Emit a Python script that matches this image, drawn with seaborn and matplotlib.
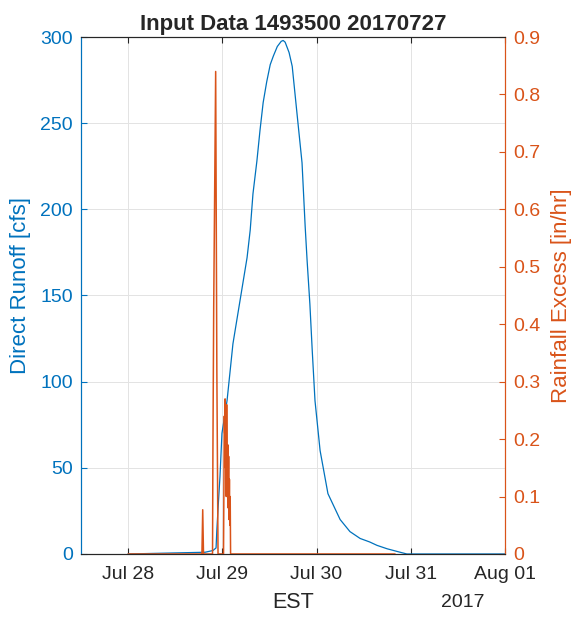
import pandas as pd
import matplotlib
matplotlib.use("Agg")
import matplotlib.pyplot as plt
import matplotlib.dates as mdates
import seaborn as sns

# Plot configuration
sns.set_style("white")
plt.rcParams['font.family'] = ['Liberation Sans', 'DejaVu Sans']
blue = "#0072BD"
orange = "#D95319"
dark = "#262626"

# Data (hours after 2017-07-27 00:00 EST)
runoff_hours = [24, 43.6, 45.6, 46.4, 46.6, 47.0, 47.4, 47.9, 49.2, 50.7, 52.5, 54.3,
                55.1, 55.8, 56.8, 57.6, 58.4, 59.3, 60.2, 61.0, 62.0, 63.0, 63.5,
                64.0, 65.0, 65.8, 67.0, 68.3, 69.1, 69.6, 70.3, 70.9, 71.6, 72.9,
                74.9, 78.0, 80.5, 83.1, 85.5, 87.4, 90.0, 93.3, 95.0, 120]
runoff_cfs = [0, 1, 2, 3.5, 14, 30, 45, 70, 89, 122, 147, 172,
              188, 209, 228, 246, 262, 274, 284, 289, 294.5, 297.5, 298,
              297, 291, 283, 256, 227, 190, 170, 145, 118, 89, 60,
              35, 20, 13, 9, 7, 5, 3, 1, 0, 0]

rain_hours = [24, 42.8, 43.0, 43.2, 45.5, 45.6, 45.8, 46.3, 46.6, 46.9,
              48.3, 48.5, 48.6, 48.7, 48.8, 48.9, 49.0, 49.1, 49.2, 49.3,
              49.4, 49.5, 49.6, 49.7, 49.8, 49.9, 50.0, 50.1, 92]
rain_inhr = [0, 0, 0.077, 0, 0, 0.18, 0.43, 0.84, 0.32, 0,
             0, 0.24, 0.21, 0.27, 0.15, 0.22, 0.10, 0.26, 0.16, 0.12,
             0.19, 0.08, 0.17, 0.06, 0.13, 0.05, 0.10, 0, 0]

start = pd.Timestamp("2017-07-27 00:00")
runoff = pd.DataFrame({"time": start + pd.to_timedelta(runoff_hours, unit="h"),
                       "cfs": runoff_cfs})
rain = pd.DataFrame({"time": start + pd.to_timedelta(rain_hours, unit="h"),
                     "inhr": rain_inhr})

tick_days = ["2017-07-28", "2017-07-29", "2017-07-30", "2017-07-31", "2017-08-01"]


def plotInput():
    fig = plt.figure(figsize=(5.73, 6.18), dpi=100)
    ax = fig.add_axes([0.1414, 0.1036, 0.7399, 0.8365])
    ax2 = ax.twinx()

    sns.lineplot(data=runoff, x="time", y="cfs", ax=ax, color=blue, linewidth=0.9)
    sns.lineplot(data=rain, x="time", y="inhr", ax=ax2, color=orange, linewidth=1.1)

    ax.set_xlim(pd.Timestamp("2017-07-27 12:00"), pd.Timestamp("2017-08-01 00:00"))
    ax.set_ylim(0, 300)
    ax2.set_ylim(0, 0.9)
    ax.set_yticks(range(0, 301, 50))
    ax2.set_yticks([i / 10 for i in range(10)])
    ax2.set_yticklabels(["0"] + ["%.1f" % (i / 10) for i in range(1, 10)])
    ax.set_xticks(pd.to_datetime(tick_days))
    ax.xaxis.set_major_formatter(mdates.DateFormatter("%b %d"))

    ax.grid(True, color="#e3e3e3", linewidth=0.7)
    ax.set_axisbelow(True)

    ax.set_title("Input Data 1493500 20170727", fontsize=16, fontweight="bold", pad=5)
    ax.set_ylabel("Direct Runoff [cfs]", color=blue, fontsize=16, va="center")
    ax.yaxis.set_label_coords(-0.142, 0.52)
    ax2.set_ylabel("Rainfall Excess [in/hr]", color=orange, fontsize=16, va="center")
    ax2.yaxis.set_label_coords(1.134, 0.5)
    ax.set_xlabel("EST", color=dark, fontsize=15.5, va="center")
    ax.xaxis.set_label_coords(0.5, -0.093)
    ax.text(0.90, -0.093, "2017", transform=ax.transAxes, ha="center", va="center",
            fontsize=14, color=dark)

    ax.tick_params(axis="x", direction="in", length=4, colors=dark, labelsize=14,
                   top=True, bottom=True, pad=9)
    ax.tick_params(axis="y", direction="in", length=4, colors=blue, labelsize=14, pad=6)
    ax2.tick_params(axis="y", direction="in", length=4, colors=orange, labelsize=14, pad=6)

    for a in (ax, ax2):
        a.spines["top"].set_color(dark)
        a.spines["bottom"].set_color(dark)
        a.spines["left"].set_color(blue)
        a.spines["right"].set_color(orange)
        for s in a.spines.values():
            s.set_linewidth(0.8)
    ax2.set_xlabel("")

    fig.savefig("out.png", dpi=100)


plotInput()
